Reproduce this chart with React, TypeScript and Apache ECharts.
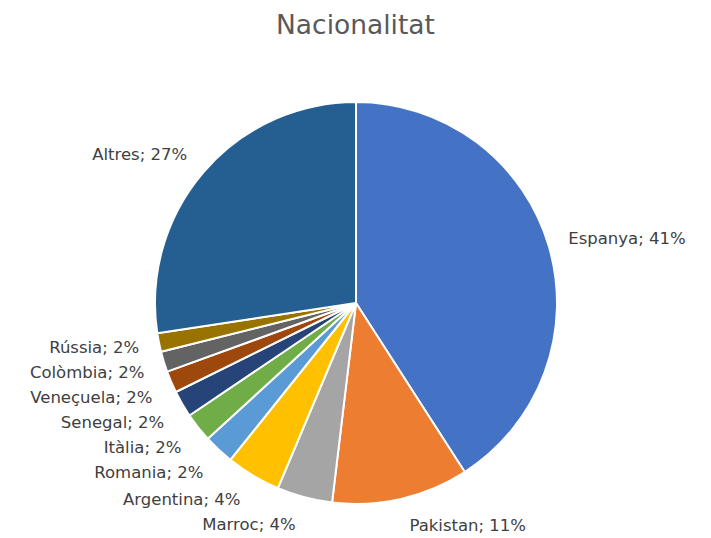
import React, { useEffect, useRef } from "react";
import * as echarts from "echarts";

const categories = [
  "Espanya",
  "Pakistan",
  "Marroc",
  "Argentina",
  "Romania",
  "Itàlia",
  "Senegal",
  "Veneçuela",
  "Colòmbia",
  "Rússia",
  "Altres",
];
const values = [40.9, 11.0, 4.45, 4.4, 2.45, 2.35, 2.15, 1.75, 1.65, 1.5, 27.4];
const colors = [
  "#4472C4",
  "#ED7D31",
  "#A5A5A5",
  "#FFC000",
  "#5B9BD5",
  "#70AD47",
  "#264478",
  "#9E480E",
  "#636363",
  "#997300",
  "#255E91",
];
const titleText = "Nacionalitat";

// layout constants (not data)
const CX = 356;
const CY = 303;
const RADIUS = 201;
const LABEL_GAP = 15;
const TEXT_GAP = 5;

export default function App() {
  const ref = useRef<HTMLDivElement>(null);
  useEffect(() => {
    if (!ref.current) return;
    const chart = echarts.init(ref.current, undefined, { renderer: "svg" });

    const total = values.reduce((a, b) => a + b, 0);
    const mids: number[] = [];
    let acc = 0;
    values.forEach((v) => {
      const span = (v / total) * 360;
      mids.push(acc + span / 2);
      acc += span;
    });

    chart.setOption({
      animation: false,
      backgroundColor: "#ffffff",
      title: {
        text: titleText,
        left: "center",
        top: 6,
        textStyle: {
          fontFamily: "DejaVu Sans",
          fontSize: 26.5,
          fontWeight: "normal",
          color: "#595959",
        },
      },
      series: [
        {
          type: "pie",
          center: [CX, CY],
          radius: RADIUS,
          startAngle: 90,
          clockwise: true,
          avoidLabelOverlap: false,
          itemStyle: { borderColor: "#ffffff", borderWidth: 2 },
          label: {
            show: true,
            position: "outside",
            fontFamily: "DejaVu Sans",
            fontSize: 16.5,
            lineHeight: 25,
            color: "#404040",
            formatter: (p: any) => `${p.name}; ${Math.round(p.percent)}%`,
          },
          labelLine: { show: false, length: LABEL_GAP, length2: 0 },
          labelLayout: (p: any) => {
            const a = (mids[p.dataIndex] * Math.PI) / 180;
            const ux = Math.sin(a);
            const uy = -Math.cos(a);
            const R = RADIUS + LABEL_GAP;
            const ax = CX + R * ux;
            const ay = CY + R * uy;
            const h = p.labelRect.height;
            const left = ux >= 0;
            const inStack = !left && uy > 0.1;
            return {
              x: ax + (left ? TEXT_GAP : -TEXT_GAP),
              y: ay + (uy * h) / 2,
              align: left ? "left" : "right",
              verticalAlign: "middle",
              moveOverlap: inStack ? "shiftY" : undefined,
            };
          },
          data: categories.map((name, i) => ({
            name,
            value: values[i],
            itemStyle: { color: colors[i] },
          })),
        },
      ],
    });
    return () => chart.dispose();
  }, []);
  return (
    <div
      ref={ref}
      style={{ position: "fixed", left: 0, top: 0, width: 711, height: 538 }}
    />
  );
}
